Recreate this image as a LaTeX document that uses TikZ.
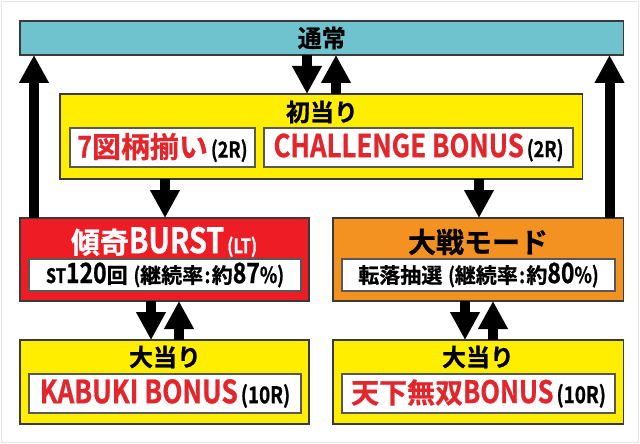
\documentclass[tikz,border=0pt]{standalone}
\usepackage{fontspec}
\usetikzlibrary{arrows.meta}
\newfontfamily\jpb{Noto Sans CJK JP Bold}[FakeBold=0.8]
\newfontfamily\jpc{Noto Sans CJK JP Bold}[FakeStretch=0.82,FakeBold=0.8]
\newcommand\fsz[1]{\fontsize{#1}{#1}\selectfont}
\definecolor{cBlue}{HTML}{6EC3CF}
\definecolor{cYel}{HTML}{FFEE00}
\definecolor{cRed}{HTML}{EE1C25}
\definecolor{cOra}{HTML}{F39221}
\definecolor{cTxt}{HTML}{E3262C}
\definecolor{cEdge}{HTML}{3A3A3A}
\begin{document}
\begin{tikzpicture}[x=1pt,y=-1pt,
  box/.style={draw=cEdge, line width=1.2pt, anchor=north west, inner sep=0pt, outer sep=0pt},
  wbox/.style={box, fill=white, draw=cEdge!85},
  lbl/.style={inner sep=0pt, anchor=center},
  barrow/.style={line width=10pt, draw=black, -{Triangle[width=28pt,length=28pt]}},
]
\useasboundingbox (0,0) rectangle (640,444);
\draw[black!10, line width=1pt] (1.5,1.5) rectangle (638.5,442.5);

% boxes
\node[box, fill=cBlue, minimum width=603.5pt, minimum height=34pt] (tsujo) at (20,21) {};
\node[lbl] (tsujoT) at (tsujo.center) {\jpb\fsz{24}通常};

\node[box, fill=cYel, minimum width=522.5pt, minimum height=85pt] (hatsu) at (60,94) {};
\node[lbl] (hatsuT) at (322,112) {\jpb\fsz{24}初当り};
\node[wbox, minimum width=185pt, minimum height=39pt] (zugara) at (70,128) {};
\node[lbl] (zugaraT) at (zugara.center) {{\color{cTxt}\jpc\fsz{30}7\jpb\fsz{29}図柄揃い}\hspace{3pt}{\jpc\fsz{22}(2R)}};
\node[wbox, minimum width=309pt, minimum height=39pt] (chall) at (264,128) {};
\node[lbl] (challT) at (chall.center) {{\color{cTxt}\jpc\fsz{31.5}CHALLENGE BONUS}\hspace{3pt}{\jpc\fsz{22}(2R)}};

\node[box, fill=cRed, minimum width=289pt, minimum height=83pt] (burst) at (20,218) {};
\node[lbl, text=white] (burstT) at (164,242) {\jpb\fsz{29}傾奇\jpc\fsz{35}BURST\hspace{3pt}\fsz{20}(LT)};
\node[wbox, minimum width=272pt, minimum height=32pt] (st) at (29,259) {};
\node[lbl] (stT) at (st.center) {\jpc\fsz{20}ST\fsz{28}120\jpb\fsz{21}回\hspace{6pt}{\jpc(}継続率{\jpc\hspace{1.5pt}:\hspace{1.5pt}}約\jpc\fsz{28}87\fsz{22}\%)};

\node[box, fill=cOra, minimum width=290.5pt, minimum height=83pt] (taisen) at (333,218) {};
\node[lbl] (taisenT) at (478,242) {\jpb\fsz{28}大戦モード};
\node[wbox, minimum width=273pt, minimum height=32pt] (tenraku) at (342,259) {};
\node[lbl] (tenrakuT) at (tenraku.center) {\jpb\fsz{21}転落抽選\hspace{6pt}{\jpc(}継続率{\jpc\hspace{1.5pt}:\hspace{1.5pt}}約\jpc\fsz{28}80\fsz{22}\%)};

\node[box, fill=cYel, minimum width=289pt, minimum height=84pt] (oa1) at (20,340) {};
\node[lbl] (oa1T) at (165,357) {\jpb\fsz{24}大当り};
\node[wbox, minimum width=272pt, minimum height=39pt] (kabuki) at (29,374) {};
\node[lbl] (kabukiT) at (kabuki.center) {{\color{cTxt}\jpc\fsz{32}KABUKI BONUS}\hspace{3pt}{\jpc\fsz{23}(10R)}};

\node[box, fill=cYel, minimum width=290.5pt, minimum height=84pt] (oa2) at (333,340) {};
\node[lbl] (oa2T) at (478,357) {\jpb\fsz{24}大当り};
\node[wbox, minimum width=273pt, minimum height=39pt] (tenka) at (342,374) {};
\node[lbl] (tenkaT) at (tenka.center) {{\color{cTxt}\jpb\fsz{28}天下無双\jpc\fsz{31}BONUS}\hspace{3pt}{\jpc\fsz{23}(10R)}};

% arrow columns
\coordinate (xL) at (34,0);
\coordinate (xR) at (609.5,0);
\coordinate (xD) at (307,0);
\coordinate (xU) at (336,0);
\coordinate (xB) at (165,0);
\coordinate (xT) at (479,0);
\coordinate (xBd) at (151,0);
\coordinate (xBu) at (179,0);
\coordinate (xTd) at (465,0);
\coordinate (xTu) at (493,0);

\draw[barrow] (burst.north -| xL) -- (tsujo.south -| xL);
\draw[barrow] (taisen.north -| xR) -- (tsujo.south -| xR);
\draw[barrow] (tsujo.south -| xD) -- (hatsu.north -| xD);
\draw[barrow] (hatsu.north -| xU) -- (tsujo.south -| xU);
\draw[barrow] (hatsu.south -| xB) -- (burst.north -| xB);
\draw[barrow] (hatsu.south -| xT) -- (taisen.north -| xT);
\draw[barrow] (burst.south -| xBd) -- (oa1.north -| xBd);
\draw[barrow] (oa1.north -| xBu) -- (burst.south -| xBu);
\draw[barrow] (taisen.south -| xTd) -- (oa2.north -| xTd);
\draw[barrow] (oa2.north -| xTu) -- (taisen.south -| xTu);
\end{tikzpicture}
\end{document}
